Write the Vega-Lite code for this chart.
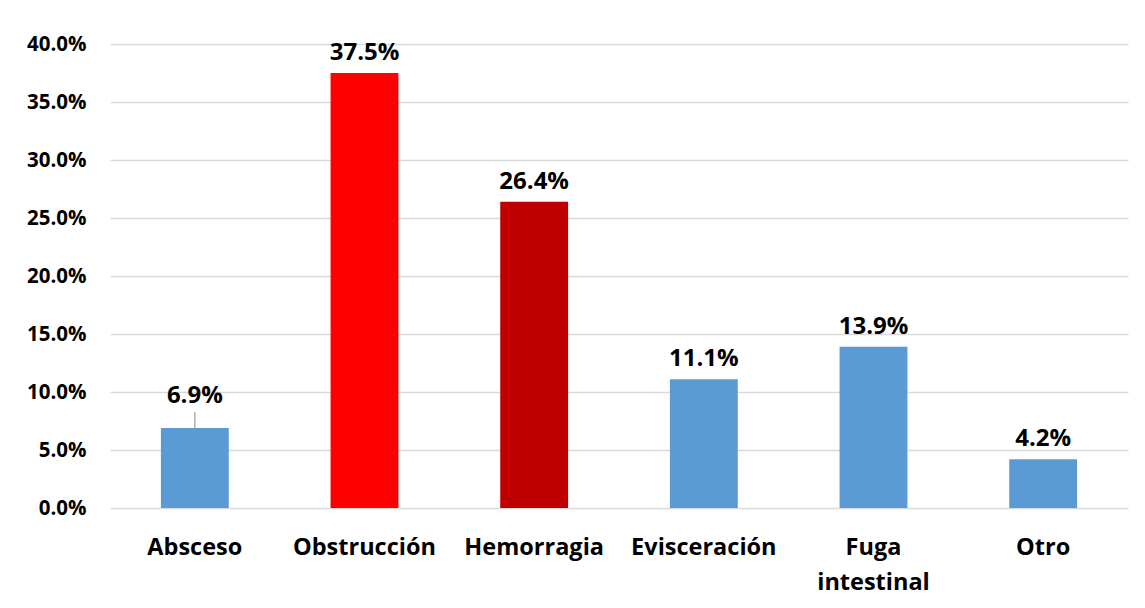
{
  "$schema": "https://vega.github.io/schema/vega-lite/v6.json",
  "width": 1018,
  "height": 464,
  "autosize": {"type": "none"},
  "padding": {"left": 110, "top": 44, "right": 17, "bottom": 100},
  "background": "white",
  "config": {"view": {"stroke": null}, "font": "Open Sans"},
  "data": {
    "values": [
      {"categoria": "Absceso", "valor": 0.069, "grupo": "azul"},
      {"categoria": "Obstrucción", "valor": 0.375, "grupo": "rojo"},
      {"categoria": "Hemorragia", "valor": 0.264, "grupo": "rojo oscuro"},
      {"categoria": "Evisceración", "valor": 0.111, "grupo": "azul"},
      {"categoria": "Fuga intestinal", "valor": 0.139, "grupo": "azul"},
      {"categoria": "Otro", "valor": 0.042, "grupo": "azul"}
    ]
  },
  "encoding": {
    "x": {
      "field": "categoria", "type": "nominal", "sort": null,
      "scale": {"paddingInner": 0.6, "paddingOuter": 0.3},
      "axis": {
        "title": null, "labelAngle": 0, "ticks": false, "domain": false,
        "labelFont": "Open Sans", "labelFontWeight": "bold", "labelFontSize": 23.5,
        "labelColor": "#000000", "labelPadding": 27, "labelLineHeight": 35,
        "labelBaseline": "top", "labelOverlap": false,
        "labelExpr": "datum.label == 'Fuga intestinal' ? ['Fuga', 'intestinal'] : datum.label"
      }
    },
    "y": {
      "field": "valor", "type": "quantitative",
      "scale": {"domain": [0, 0.4]},
      "axis": {
        "title": null, "format": ".1%", "values": [0, 0.05, 0.1, 0.15, 0.2, 0.25, 0.3, 0.35, 0.4],
        "ticks": false, "domain": false, "grid": true, "labelOverlap": false,
        "gridColor": "#D9D9D9", "gridWidth": 1.3,
        "labelFont": "Open Sans", "labelFontWeight": "bold", "labelFontSize": 20.5,
        "labelColor": "#000000", "labelPadding": 24
      }
    }
  },
  "layer": [
    {
      "mark": {"type": "bar"},
      "encoding": {
        "color": {
          "field": "grupo", "type": "nominal", "legend": null,
          "scale": {"domain": ["azul", "rojo", "rojo oscuro"], "range": ["#5B9BD5", "#FF0000", "#C00000"]}
        }
      }
    },
    {
      "transform": [{"filter": "datum.categoria != 'Absceso'"}],
      "mark": {"type": "text", "dy": -8, "baseline": "bottom", "font": "Open Sans", "fontWeight": "bold", "fontSize": 24, "color": "#000000"},
      "encoding": {"text": {"field": "valor", "type": "quantitative", "format": ".1%"}}
    },
    {
      "transform": [{"filter": "datum.categoria == 'Absceso'"}],
      "mark": {"type": "text", "dy": -20, "baseline": "bottom", "font": "Open Sans", "fontWeight": "bold", "fontSize": 24, "color": "#000000"},
      "encoding": {"text": {"field": "valor", "type": "quantitative", "format": ".1%"}}
    },
    {
      "transform": [{"filter": "datum.categoria == 'Absceso'"}],
      "mark": {"type": "rule", "y2Offset": -16, "color": "#A6A6A6", "strokeWidth": 1.3},
      "encoding": {"y2": {"field": "valor"}}
    }
  ]
}
